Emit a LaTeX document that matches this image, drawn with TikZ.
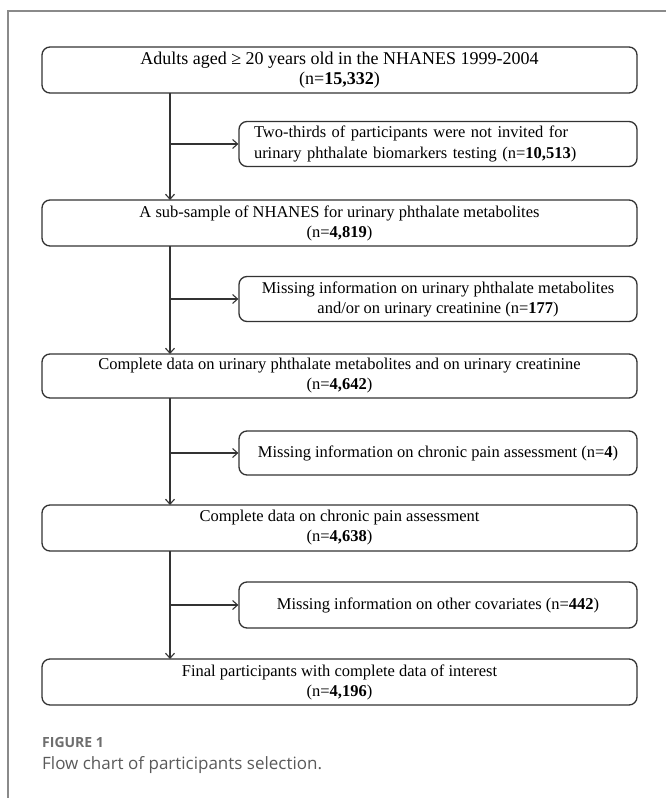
\documentclass[tikz,border=0pt]{standalone}
\usepackage{fontspec}
\setmainfont{Liberation Serif}
\newfontfamily\capfont{Open Sans}
\usetikzlibrary{arrows.meta}
\definecolor{frameg}{HTML}{8A8A8A}
\definecolor{boxc}{HTML}{333333}
\definecolor{capg}{HTML}{5A5A5A}
\definecolor{figg}{HTML}{6E6E6E}
\begin{document}
\begin{tikzpicture}[x=1pt,y=-1pt,
  mainbox/.style={draw=boxc,line width=1.3pt,rounded corners=8pt,minimum width=595pt,minimum height=46pt,inner sep=0pt,align=center,font=\fontsize{16.5}{20}\selectfont,text=black},
  sidebox/.style={draw=boxc,line width=1.3pt,rounded corners=8pt,minimum width=398pt,minimum height=45pt,inner sep=0pt,align=center,font=\fontsize{16.5}{20}\selectfont,text=black},
  flow/.style={draw=boxc,line width=1.2pt,-{Straight Barb[length=5pt,width=9pt,line width=1.1pt]}}]
\useasboundingbox (0,0) rectangle (666,798);
\fill[white] (0,0) rectangle (666,798);
% frame
\draw[frameg,line width=2pt] (8,798) -- (8,11) -- (666,11);
% main boxes
\node[mainbox,font=\fontsize{18}{20}\selectfont] (b1) at (339.5,70) {Adults aged ≥ 20 years old in the NHANES 1999-2004\\(n=\textbf{15,332})};
\node[mainbox] (b3) at (339.5,223) {A sub-sample of NHANES for urinary phthalate metabolites\\(n=\textbf{4,819})};
\node[mainbox,minimum height=44pt] (b5) at (339.5,376) {Complete data on urinary phthalate metabolites and on urinary creatinine\\(n=\textbf{4,642})};
\node[mainbox] (b7) at (339.5,528) {Complete data on chronic pain assessment\\(n=\textbf{4,638})};
\node[mainbox] (b9) at (339.5,682) {Final participants with complete data of interest\\(n=\textbf{4,196})};
% side boxes
\node[sidebox,align=left,text width=368pt,font=\fontsize{16.5}{21}\selectfont] (b2) at (438,144) {Two-thirds of participants were not invited for\\urinary phthalate biomarkers testing (n=\textbf{10,513})};
\node[sidebox] (b4) at (438,299) {Missing information on urinary phthalate metabolites\\and/or on urinary creatinine (n=\textbf{177})};
\node[sidebox,minimum height=44pt] (b6) at (438,453) {Missing information on chronic pain assessment (n=\textbf{4})};
\node[sidebox,minimum height=46pt] (b8) at (438,605) {Missing information on other covariates (n=\textbf{442})};
% connectors
\coordinate (t1) at (170,93);
\coordinate (j1) at (170,144);
\coordinate (e1) at (170,200);
\draw[flow] (t1) -- (e1);
\draw[flow] (j1) -- (b2.west);
\coordinate (t3) at (170,246);
\coordinate (j3) at (170,299);
\coordinate (e3) at (170,354);
\draw[flow] (t3) -- (e3);
\draw[flow] (j3) -- (b4.west);
\coordinate (t5) at (170,398);
\coordinate (j5) at (170,453);
\coordinate (e5) at (170,505);
\draw[flow] (t5) -- (e5);
\draw[flow] (j5) -- (b6.west);
\coordinate (t7) at (170,551);
\coordinate (j7) at (170,605);
\coordinate (e7) at (170,659);
\draw[flow] (t7) -- (e7);
\draw[flow] (j7) -- (b8.west);
% caption
\node[anchor=base west,inner sep=0pt,font=\capfont\bfseries\fontsize{14}{16}\selectfont,text=figg] (fig) at (42,747) {FIGURE 1};
\node[anchor=base west,inner sep=0pt,font=\capfont\fontsize{17}{20}\selectfont,text=capg] (cap) at (42,769) {Flow chart of participants selection.};
\end{tikzpicture}
\end{document}
